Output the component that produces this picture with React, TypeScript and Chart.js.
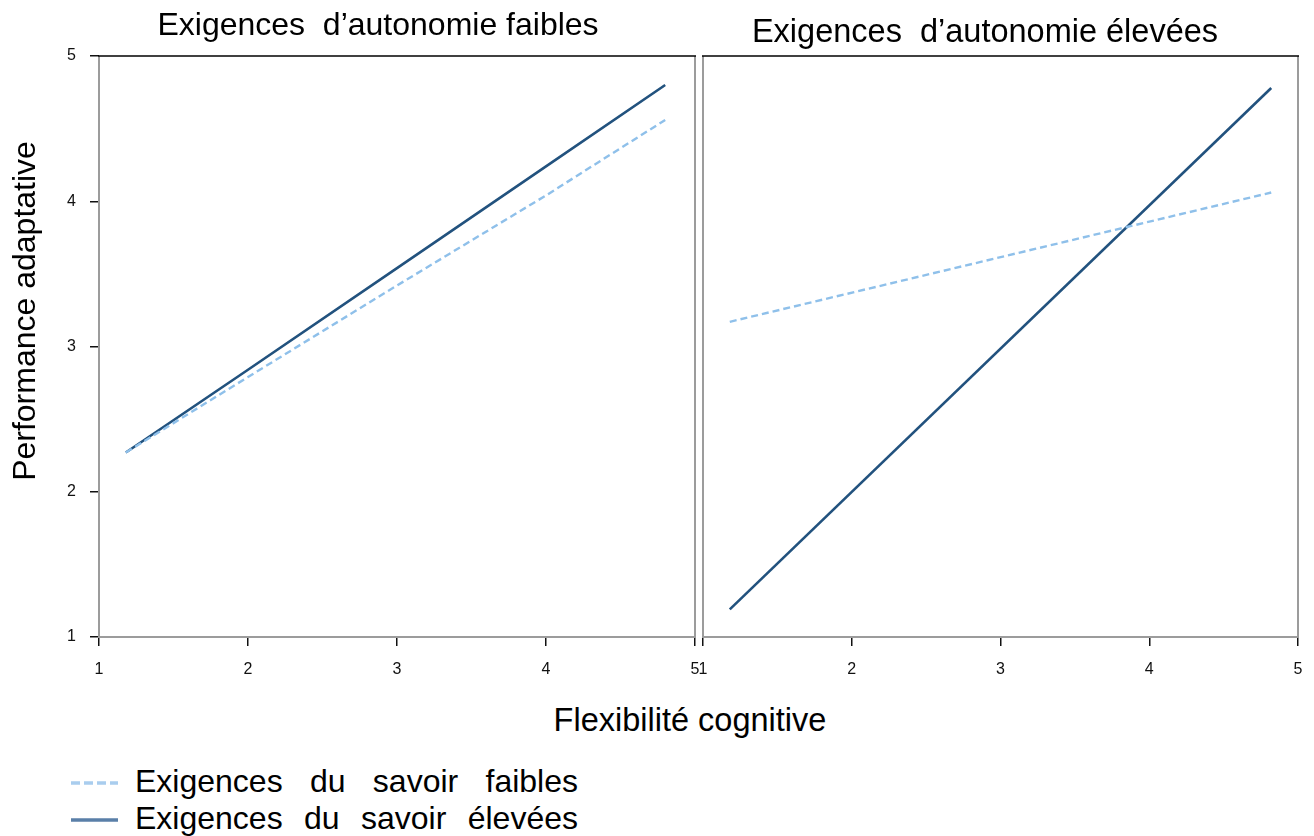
import React, { useEffect, useRef } from "react";
import { Chart, registerables } from "chart.js";

Chart.register(...registerables);
Chart.defaults.font.family = "Liberation Sans, Arial, sans-serif";
Chart.defaults.font.size = 16;
Chart.defaults.color = "#111";

// ---- Data ----
const panelTitles = ["Exigences  d\u2019autonomie faibles", "Exigences  d\u2019autonomie élevées"];
const xAxisTitle = "Flexibilité cognitive";
const yAxisTitle = "Performance adaptative";
const seriesNames = ["Exigences du savoir faibles", "Exigences du savoir élevées"];

const xTickValues = [1, 2, 3, 4, 5];
const yTickValues = [1, 2, 3, 4, 5];

// Left panel: low autonomy demands
const leftX = [1.18, 2, 3, 4, 4.8];
const leftKnowledgeLow = [2.27, 2.79, 3.42, 4.04, 4.56];
const leftKnowledgeHigh = [2.27, 2.84, 3.54, 4.24, 4.8];

// Right panel: high autonomy demands
const rightX = [1.18, 4.82];
const rightKnowledgeLow = [3.17, 4.06];
const rightKnowledgeHigh = [1.19, 4.78];

const LIGHT = "#8fc0ea";
const DARK = "#22527e";
const FONT = "'Liberation Sans', Arial, sans-serif";

const framePlugin = {
  id: "frame",
  afterDraw(chart: any) {
    const { ctx, chartArea } = chart;
    const { left, right, top, bottom } = chartArea;
    ctx.save();
    ctx.strokeStyle = "#9c9c9c";
    ctx.lineWidth = 2;
    ctx.beginPath();
    ctx.moveTo(left, top);
    ctx.lineTo(left, bottom);
    ctx.lineTo(right, bottom);
    ctx.lineTo(right, top);
    ctx.stroke();
    ctx.strokeStyle = "#000";
    ctx.lineWidth = 1.6;
    ctx.beginPath();
    ctx.moveTo(left - 1, top);
    ctx.lineTo(right + 1, top);
    ctx.stroke();
    ctx.restore();
  },
};

function makeConfig(xs: number[], low: number[], high: number[], showY: boolean, pad: any, yWidth: number, xHeight: number): any {
  return {
    type: "line",
    data: {
      datasets: [
        {
          label: seriesNames[0],
          data: xs.map((x, i) => ({ x, y: low[i] })),
          borderColor: LIGHT,
          borderWidth: 2.4,
          borderDash: [7, 4],
          pointRadius: 0,
          tension: 0,
        },
        {
          label: seriesNames[1],
          data: xs.map((x, i) => ({ x, y: high[i] })),
          borderColor: DARK,
          borderWidth: 2.6,
          pointRadius: 0,
          tension: 0,
        },
      ],
    },
    options: {
      responsive: false,
      animation: false,
      devicePixelRatio: 1,
      layout: { padding: pad },
      plugins: { legend: { display: false }, title: { display: false }, tooltip: { enabled: false } },
      scales: {
        x: {
          type: "linear",
          min: 1,
          max: 5,
          afterBuildTicks: (s: any) => {
            s.ticks = xTickValues.map((v) => ({ value: v }));
          },
          afterFit: (s: any) => {
            s.height = xHeight;
          },
          ticks: { font: { size: 16 }, color: "#111", padding: 14, maxRotation: 0, autoSkip: false },
          grid: { display: true, drawOnChartArea: false, drawTicks: true, tickLength: 9, color: "#111", lineWidth: 1.5 },
          border: { display: false },
        },
        y: {
          type: "linear",
          min: 1,
          max: 5,
          afterBuildTicks: (s: any) => {
            s.ticks = yTickValues.map((v) => ({ value: v }));
          },
          afterFit: (s: any) => {
            s.width = yWidth;
          },
          ticks: { display: showY, font: { size: 16 }, color: "#111", padding: 14 },
          grid: { display: showY, drawOnChartArea: false, drawTicks: showY, tickLength: 9, color: "#111", lineWidth: 1.5 },
          border: { display: false },
        },
      },
    },
    plugins: [framePlugin],
  };
}

function Panel(props: { left: number; width: number; height: number; config: any }) {
  const ref = useRef<HTMLCanvasElement | null>(null);
  useEffect(() => {
    if (!ref.current) return;
    const chart = new Chart(ref.current, props.config);
    return () => chart.destroy();
  }, []);
  return (
    <canvas
      ref={ref}
      width={props.width}
      height={props.height}
      style={{ position: "absolute", left: props.left, top: 0, width: props.width, height: props.height }}
    />
  );
}

const textBase: React.CSSProperties = {
  position: "absolute",
  fontFamily: FONT,
  color: "#000",
  whiteSpace: "pre",
  lineHeight: "40px",
  height: 40,
};

export default function App() {
  // left panel: canvas 0..715, plot area 99..695
  const leftCfg = makeConfig(leftX, leftKnowledgeLow, leftKnowledgeHigh, true, { left: 0, top: 56, right: 22, bottom: 0 }, 99, 700 - 637);
  // right panel: canvas 678..1320, plot area 703..1298
  const rightCfg = makeConfig(rightX, rightKnowledgeLow, rightKnowledgeHigh, false, { left: 0, top: 56, right: 22, bottom: 0 }, 25, 700 - 637);
  return (
    <div style={{ position: "fixed", left: 0, top: 0, width: 1314, height: 836, background: "#fff", overflow: "hidden" }}>
      <Panel left={0} width={717} height={700} config={leftCfg} />
      <Panel left={678} width={642} height={700} config={rightCfg} />

      <div style={{ ...textBase, fontSize: 32, left: 378 - 300, width: 600, top: 24 - 20, textAlign: "center" }}>{panelTitles[0]}</div>
      <div style={{ ...textBase, fontSize: 32.5, left: 985 - 300, width: 600, top: 31 - 20, textAlign: "center" }}>{panelTitles[1]}</div>

      <div style={{ ...textBase, fontSize: 32.5, left: 690 - 250, width: 500, top: 720 - 20, textAlign: "center" }}>{xAxisTitle}</div>
      <div
        style={{
          ...textBase,
          fontSize: 32,
          left: 24 - 250,
          width: 500,
          top: 311 - 20,
          textAlign: "center",
          transform: "rotate(-90deg)",
        }}
      >
        {yAxisTitle}
      </div>

      {[0, 1].map((i) => (
        <div key={i} style={{ position: "absolute", left: 60, top: (i === 0 ? 781 : 818) - 20, height: 40, width: 560 }}>
          <svg width={60} height={40} style={{ position: "absolute", left: 0, top: 0 }}>
            <line
              x1={11}
              x2={58}
              y1={22}
              y2={22}
              stroke={i === 0 ? "#a9cdee" : "#5a7fa8"}
              strokeWidth={3.5}
              strokeDasharray={i === 0 ? "9 4" : undefined}
            />
          </svg>
          <div
            style={{
              ...textBase,
              fontSize: 32,
              left: 75,
              top: 0,
              width: 443,
              display: "flex",
              justifyContent: "space-between",
            }}
          >
            {seriesNames[i].split(" ").map((w, k) => (
              <span key={k}>{w}</span>
            ))}
          </div>
        </div>
      ))}
    </div>
  );
}
